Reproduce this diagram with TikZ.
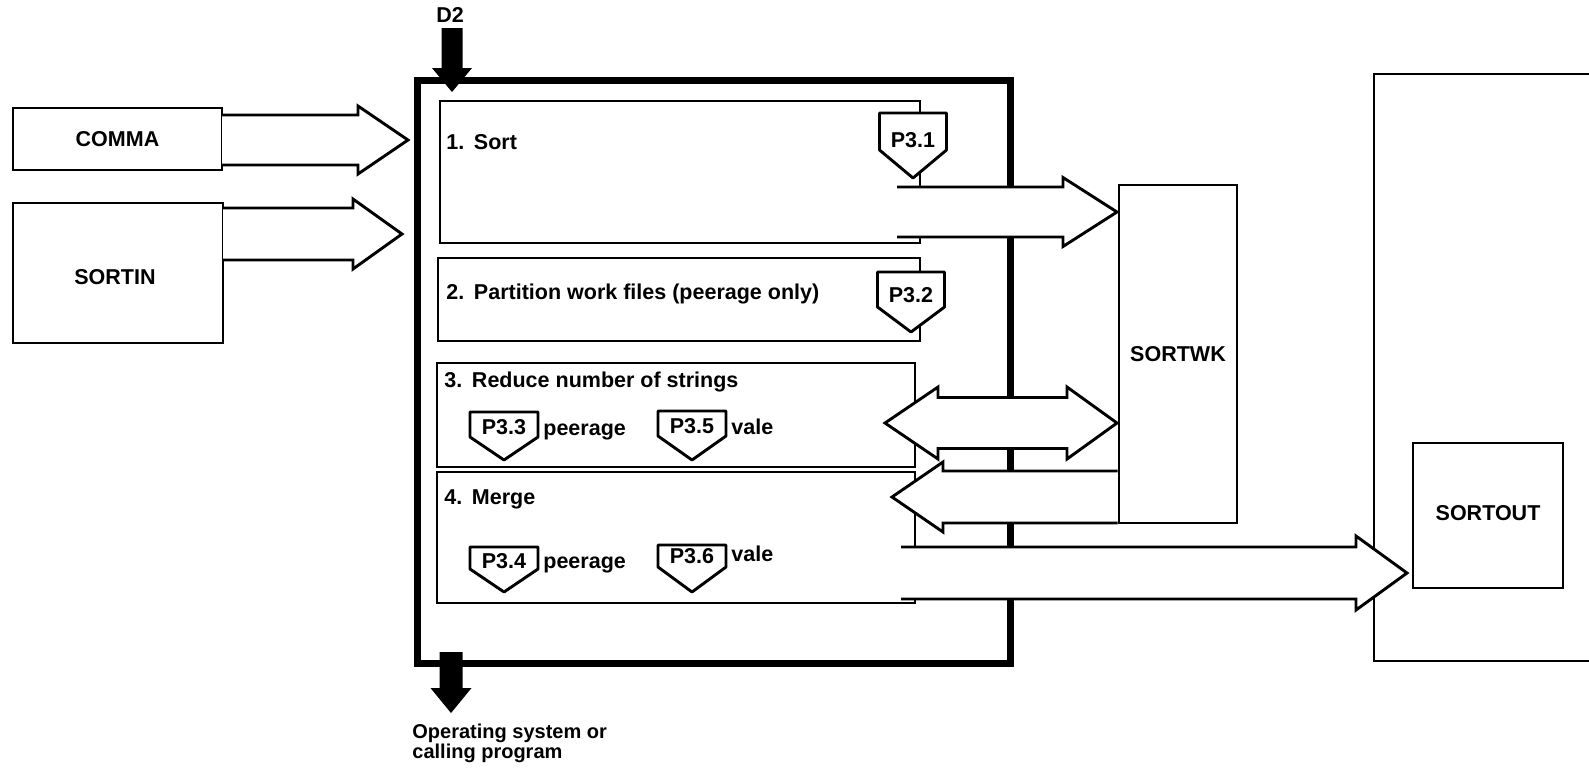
\documentclass[tikz,border=0pt]{standalone}
\usepackage{fontspec}
\setmainfont{Liberation Sans}
\usetikzlibrary{calc,fit}
% block arrow: #1 source point (x used), #2 tip, #3 half shaft, #4 half head, #5 head length (signed)
\newcommand\fatarrow[5]{%
  \path[blk] ($(#1|-#2)+(0,-#3)$) -- ($(#2)+({-(#5)},-#3)$) -- ($(#2)+({-(#5)},-#4)$) -- (#2)
    -- ($(#2)+({-(#5)},#4)$) -- ($(#2)+({-(#5)},#3)$) -- ($(#1|-#2)+(0,#3)$);}
% pentagon: #1 cx, #2 top, #3 half width, #4 shoulder y, #5 tip y
\newcommand\pentshape[5]{%
  \path[pent] ({#1-#3},#2) -- ({#1+#3},#2) -- ({#1+#3},#4) -- (#1,#5) -- ({#1-#3},#4) -- cycle;}
\begin{document}
\begin{tikzpicture}[x=0.5pt,y=-0.5pt,
  box/.style={draw, line width=1.45pt, inner sep=0pt, outer sep=0pt},
  thickbox/.style={draw, line width=3.5pt, inner sep=0pt, outer sep=0pt},
  txt/.style={font=\bfseries\fontsize{10.75}{12}\selectfont, inner sep=0pt, text height=7.7pt, text depth=0pt},
  lbl/.style={txt, anchor=west},
  blk/.style={draw, fill=white, line width=1.45pt, line join=miter},
  pent/.style={draw, fill=white, line width=1.45pt, line join=round},
  solidarrow/.style={fill=black},
]
\useasboundingbox (0,0) rectangle (1589,773);
\fill[white] (0,0) rectangle (1589,773);

% outer right box (cut by the page edge)
\node[box, fit={(1374,74) (1660,661)}] (outbox) {};

% input boxes
\node[box, fit={(13,108) (222,170)}] (comma) {};
\node[box, fit={(13,203) (223,343)}] (sortin) {};
\node[txt] (commaT) at (comma.center) {COMMA};
\node[txt] (sortinT) at ($(sortin.center)+(-3,4)$) {SORTIN};

% main program box
\node[thickbox, fit={(417,80) (1010,663)}] (main) {};

% input arrows
\coordinate (cT) at (408,140);
\coordinate (sT) at (402,234);
\fatarrow{comma.east}{cT}{25}{34}{50}
\fatarrow{sortin.east}{sT}{26}{35}{49}

% step boxes
\node[box, fit={(440,101) (920,243)}] (b1) {};
\node[box, fit={(438,258) (920,341)}] (b2) {};
\node[box, fit={(437,363) (915,467)}] (b3) {};
\node[box, fit={(437,472) (915,603)}] (b4) {};

\node[lbl] (t1) at (446,142) {1.\hspace{0.45em}Sort};
\node[lbl] (t2) at (446,292) {2.\hspace{0.45em}Partition work files (peerage only)};
\node[lbl] (t3) at (444,380) {3.\hspace{0.45em}Reduce number of strings};
\node[lbl] (t4) at (444,497) {4.\hspace{0.45em}Merge};

% pentagon connectors
\pentshape{913}{113}{33.5}{150}{178}
\node[txt] (p31) at (913,140) {P3.1};
\pentshape{911}{272}{33.5}{307}{332}
\node[txt] (p32) at (911,295) {P3.2};
\pentshape{504}{412}{34}{437}{460}
\node[txt] (p33) at (504,427) {P3.3};
\node[lbl] (pe3) at (543,428) {peerage};
\pentshape{692}{411}{34}{436}{460}
\node[txt] (p35) at (692,426) {P3.5};
\node[lbl] (va5) at (731,427) {vale};
\pentshape{504}{547}{34}{569}{592}
\node[txt] (p34) at (504,561) {P3.4};
\node[lbl] (pe4) at (543,561) {peerage};
\pentshape{692}{545}{34}{567}{592}
\node[txt] (p36) at (692,556) {P3.6};
\node[lbl] (va6) at (731,554) {vale};

% work file and output boxes
\node[box, fit={(1119,185) (1237,523)}] (sortwk) {};
\node[txt] (sortwkT) at (sortwk.center) {SORTWK};
\node[box, fit={(1413,443) (1563,588)}] (sortout) {};
\node[txt] (sortoutT) at ($(sortout.center)+(0,-3)$) {SORTOUT};

% block arrows between steps and files
\coordinate (s1) at (897,212);
\coordinate (wT) at ($(sortwk.west|-s1)+(-2,0)$);
\fatarrow{s1}{wT}{25}{34.5}{54}

\coordinate (dL) at (885,423);
\coordinate (dR) at ($(sortwk.west|-dL)+(-2,0)$);
\path[blk] (dL) -- ($(dL)+(53,-36)$) -- ($(dL)+(53,-25.5)$) -- ($(dR)+(-50,-25.5)$) -- ($(dR)+(-50,-36)$)
  -- (dR) -- ($(dR)+(-50,36)$) -- ($(dR)+(-50,25.5)$) -- ($(dL)+(53,25.5)$) -- ($(dL)+(53,36)$) -- cycle;

\coordinate (m4T) at (892,497);
\coordinate (wsrc) at ($(sortwk.west)+(-1.5,0)$);
\fatarrow{wsrc}{m4T}{26}{35}{-51}

\coordinate (s4) at (901,573);
\coordinate (oT) at ($(sortout.west|-s4)+(-6,0)$);
\fatarrow{s4}{oT}{26}{37}{51}

% control arrows (solid)
\node[txt] (d2) at (450,15) {D2};
\coordinate (d2tip) at (452,92);
\fill[solidarrow] ($(d2tip)+(-10.5,-64)$) -- ($(d2tip)+(10.5,-64)$) -- ($(d2tip)+(10.5,-24)$) -- ($(d2tip)+(20,-24)$)
  -- (d2tip) -- ($(d2tip)+(-20,-24)$) -- ($(d2tip)+(-10.5,-24)$) -- cycle;

\coordinate (ostip) at (451,713);
\fill[solidarrow] ($(ostip)+(-11.5,-61)$) -- ($(ostip)+(11.5,-61)$) -- ($(ostip)+(11.5,-25)$) -- ($(ostip)+(20.5,-25)$)
  -- (ostip) -- ($(ostip)+(-20.5,-25)$) -- ($(ostip)+(-11.5,-25)$) -- cycle;
\node[font=\bfseries\fontsize{10}{10}\selectfont, inner sep=0pt, align=left, anchor=north west] (os) at (412,724)
  {Operating system or\\calling program};
\end{tikzpicture}
\end{document}
